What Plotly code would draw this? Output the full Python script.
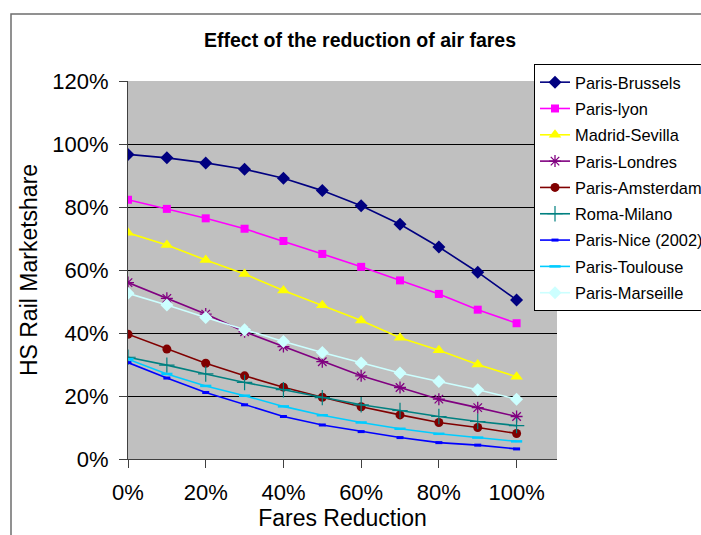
import plotly.graph_objects as go

# Fare reduction levels (fraction) and modelled rail market share (%) per route
fare_reduction = [0.0, 0.1, 0.2, 0.3, 0.4, 0.5, 0.6, 0.7, 0.8, 0.9, 1.0]

paris_brussels = [96.7, 95.6, 94.0, 92.0, 89.1, 85.2, 80.4, 74.5, 67.3, 59.3, 50.5]
paris_lyon = [82.3, 79.4, 76.4, 73.1, 69.2, 65.1, 61.0, 56.7, 52.4, 47.4, 43.1]
madrid_sevilla = [71.8, 67.9, 63.2, 58.7, 53.5, 48.8, 44.0, 38.5, 34.5, 30.0, 26.1]
paris_londres = [56.0, 51.0, 46.0, 40.4, 35.7, 30.9, 26.4, 22.7, 19.0, 16.3, 13.5]
paris_amsterdam = [39.6, 34.9, 30.4, 26.4, 22.8, 19.6, 16.6, 14.0, 11.6, 10.0, 8.1]
roma_milano = [32.3, 29.8, 27.0, 24.3, 22.0, 19.5, 17.2, 15.4, 13.5, 11.9, 10.6]
paris_nice = [30.6, 25.7, 21.1, 17.2, 13.5, 10.8, 8.7, 6.8, 5.2, 4.4, 3.2]
paris_toulouse = [31.7, 27.0, 23.2, 20.1, 16.7, 13.9, 11.6, 9.6, 8.0, 6.8, 5.6]
paris_marseille = [52.6, 48.9, 44.9, 41.0, 37.3, 33.8, 30.5, 27.3, 24.6, 22.0, 19.0]

x_tick_values = [0.0, 0.2, 0.4, 0.6, 0.8, 1.0]
x_tick_labels = ["0%", "20%", "40%", "60%", "80%", "100%"]
y_tick_values = [0, 20, 40, 60, 80, 100, 120]
y_tick_labels = ["0%", "20%", "40%", "60%", "80%", "100%", "120%"]

# name, values, colour, marker symbol, marker size, marker outline width
series = [
    ("Paris-Brussels", paris_brussels, "#000080", "diamond", 10, 0),
    ("Paris-lyon", paris_lyon, "#FF00FF", "square", 8, 0),
    ("Madrid-Sevilla", madrid_sevilla, "#FFFF00", "triangle-up", 11, 0),
    ("Paris-Londres", paris_londres, "#800080", "asterisk-open", 10, 1.3),
    ("Paris-Amsterdam", paris_amsterdam, "#800000", "circle", 9, 0),
    ("Roma-Milano", roma_milano, "#008080", "cross-thin-open", 11, 1.2),
    ("Paris-Nice (2002)", paris_nice, "#0000FF", "line-ew-open", 5, 3),
    ("Paris-Toulouse", paris_toulouse, "#00CCFF", "line-ew-open", 8, 2.5),
    ("Paris-Marseille", paris_marseille, "#CCFFFF", "diamond", 10, 0),
]

fig = go.Figure()
for name, values, color, symbol, size, lw in series:
    fig.add_trace(go.Scatter(
        x=fare_reduction,
        y=values,
        name=name,
        legendgroup=name,
        mode="lines+markers",
        line=dict(color=color, width=1.6),
        marker=dict(symbol=symbol, size=size, color=color,
                    line=dict(color=color, width=lw)),
    ))

font_family = "Liberation Sans, Arial, sans-serif"

fig.update_layout(
    width=701,
    height=535,
    margin=dict(l=128, r=144, t=81, b=76, autoexpand=False),
    paper_bgcolor="white",
    plot_bgcolor="#C0C0C0",
    font=dict(family=font_family, color="black"),
    title=dict(
        text="<b>Effect of the reduction of air fares</b>",
        font=dict(size=19.5, family=font_family, color="black"),
        x=(360 - 128) / 429,
        xref="paper",
        xanchor="center",
        y=1 - 40 / 535,
        yanchor="middle",
    ),
    legend=dict(
        x=(534 - 128) / 429,
        y=(459 - 64) / 378,
        xanchor="left",
        yanchor="top",
        bgcolor="white",
        bordercolor="black",
        borderwidth=1,
        font=dict(size=16.4, family=font_family, color="black"),
        traceorder="grouped",
        tracegroupgap=2,
    ),
    showlegend=True,
    shapes=[
        # outer chart frame
        dict(type="rect", xref="paper", yref="paper",
             x0=(11 - 128) / 429, x1=(760 - 128) / 429,
             y0=(459 - 560) / 378, y1=(459 - 14) / 378,
             line=dict(color="#6E6E6E", width=1.5), fillcolor="rgba(0,0,0,0)",
             layer="below"),
    ],
)

fig.update_xaxes(
    range=[0, 1.104],
    tickvals=x_tick_values,
    ticktext=x_tick_labels,
    ticks="outside",
    ticklen=8,
    tickcolor="#404040",
    tickwidth=1,
    showline=True,
    linecolor="#404040",
    linewidth=1,
    showgrid=False,
    zeroline=False,
    tickfont=dict(size=22, family=font_family, color="black"),
    ticklabelstandoff=6,
    title=dict(text="Fares Reduction", font=dict(size=23, family=font_family, color="black"),
               standoff=2),
)

fig.update_yaxes(
    range=[0, 120],
    tickvals=y_tick_values,
    ticktext=y_tick_labels,
    ticks="outside",
    ticklen=8,
    tickcolor="#404040",
    tickwidth=1,
    showline=True,
    linecolor="#404040",
    linewidth=1,
    showgrid=True,
    gridcolor="black",
    gridwidth=1,
    zeroline=False,
    tickfont=dict(size=22, family=font_family, color="black"),
    ticklabelstandoff=6,
    title=dict(text="HS Rail Marketshare", font=dict(size=23, family=font_family, color="black"),
               standoff=8),
)

fig.write_html("out.html")
